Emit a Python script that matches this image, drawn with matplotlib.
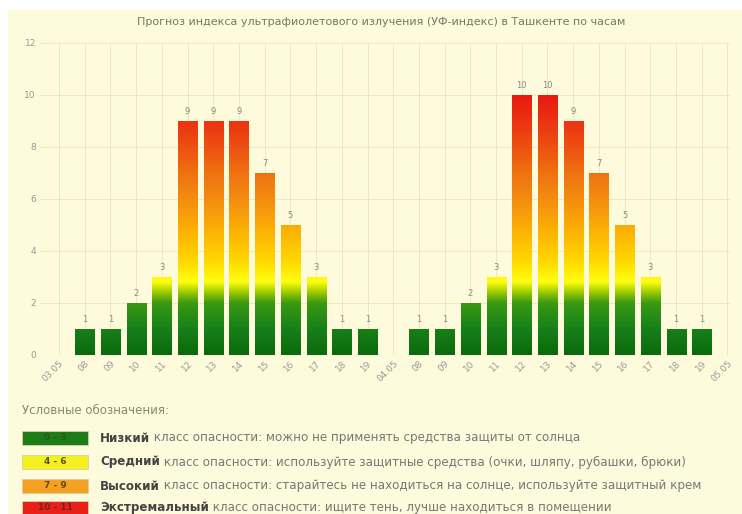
import matplotlib
matplotlib.use("Agg")
import matplotlib.pyplot as plt
import numpy as np
from matplotlib.colors import LinearSegmentedColormap
from matplotlib.patches import Rectangle

# ---- data ----
dates = ["03.05", "04.05", "05.05"]
hours = ["08", "09", "10", "11", "12", "13", "14", "15", "16", "17", "18", "19"]
day1_uv = [1, 1, 2, 3, 9, 9, 9, 7, 5, 3, 1, 1]
day2_uv = [1, 1, 2, 3, 10, 10, 9, 7, 5, 3, 1, 1]
title = "Прогноз индекса ультрафиолетового излучения (УФ-индекс) в Ташкенте по часам"
legend_title = "Условные обозначения:"
legend_ranges = ["0 - 3", "4 - 6", "7 - 9", "10 - 11"]
legend_bold = ["Низкий", "Средний", "Высокий", "Экстремальный"]
legend_text = [
    " класс опасности: можно не применять средства защиты от солнца",
    " класс опасности: используйте защитные средства (очки, шляпу, рубашки, брюки)",
    " класс опасности: старайтесь не находиться на солнце, используйте защитный крем",
    " класс опасности: ищите тень, лучше находиться в помещении",
]
legend_colors = ["#1c7c16", "#f5f020", "#f5a020", "#e82018"]
legend_txtcol = ["#2a5a20", "#555522", "#664422", "#772222"]

# ---- build category axis ----
tick_labels = [dates[0]] + hours + [dates[1]] + hours + [dates[2]]
values = [None] + day1_uv + [None] + day2_uv + [None]
xpos = np.arange(len(tick_labels))

W, H = 742, 514
bg = "#fefbdc"
fig = plt.figure(figsize=(W / 100, H / 100), dpi=100, facecolor="white")
fig.patches.append(Rectangle((8 / W, 0), 1, (H - 10) / H, transform=fig.transFigure,
                             facecolor=bg, edgecolor="none", zorder=-10))

left, right = 40 / W, 730 / W
bottom, top = (H - 355) / H, (H - 43) / H
ax = fig.add_axes([left, bottom, right - left, top - bottom])
ax.set_facecolor(bg)
ax.patch.set_alpha(0)

for s in ax.spines.values():
    s.set_visible(False)
ax.set_yticks(np.arange(0, 13, 2))
ax.set_xticks(xpos)
ax.set_xticklabels(tick_labels, rotation=45, ha="right", rotation_mode="anchor",
                   fontsize=6.5, color="#999999")
ax.tick_params(axis="y", labelsize=6.5, labelcolor="#999999", length=0, pad=3)
ax.tick_params(axis="x", length=0, pad=3)
ax.grid(True, color="#efe7bd", linewidth=0.7)
ax.set_axisbelow(True)

# gradient colormap in data units 0..12
stops = [(0.0, "#0b6a0b"), (1.0, "#17801a"), (2.0, "#3b9a12"), (2.45, "#a8d000"),
         (2.8, "#ffff10"), (3.6, "#ffd800"), (5.0, "#fbaa06"), (6.0, "#f48c10"),
         (7.0, "#ef7210"), (8.0, "#ee5012"), (9.0, "#ec3212"), (10.0, "#e81a12"),
         (12.0, "#e01010")]
cmap = LinearSegmentedColormap.from_list("uv", [(v / 12.0, c) for v, c in stops])
grad = np.linspace(0, 1, 512).reshape(-1, 1)

bar_w = 0.74
for x, v in zip(xpos, values):
    if v is None:
        continue
    b = ax.bar(x, v, width=bar_w, color="none", edgecolor="none")[0]
    im = ax.imshow(grad, cmap=cmap, aspect="auto", origin="lower",
                   extent=[x - bar_w / 2, x + bar_w / 2, 0, 12], zorder=2)
    im.set_clip_path(b)
    ax.text(x, v + 0.2, str(v), ha="center", va="bottom", fontsize=6, color="#888888")

ax.set_xlim(-0.74, 26.1)
ax.set_ylim(0, 12)

fig.text(381 / W, 1 - 22 / H, title, ha="center", va="center", fontsize=8, color="#777766")

# ---- legend ----
fig.text(22 / W, 1 - 410 / H, legend_title, ha="left", va="center", fontsize=8.5, color="#888877")
row_y = [438, 462, 486, 508]
fig.canvas.draw()
renderer = fig.canvas.get_renderer()
for i, y in enumerate(row_y):
    fig.patches.append(Rectangle((22 / W, 1 - (y + 7) / H), 66 / W, 14 / H,
                                 transform=fig.transFigure, facecolor=legend_colors[i],
                                 edgecolor="#d8d0a0", linewidth=0.6))
    fig.text(55 / W, 1 - y / H, legend_ranges[i], ha="center", va="center",
             fontsize=6.5, color=legend_txtcol[i], fontweight="bold")
    t1 = fig.text(100 / W, 1 - y / H, legend_bold[i], ha="left", va="center",
                  fontsize=8.6, color="#444444", fontweight="bold")
    bb = t1.get_window_extent(renderer)
    fig.text(bb.x1 / W, 1 - y / H, legend_text[i], ha="left", va="center",
             fontsize=8.6, color="#777777")

fig.savefig("out.png", dpi=100, facecolor="white")
